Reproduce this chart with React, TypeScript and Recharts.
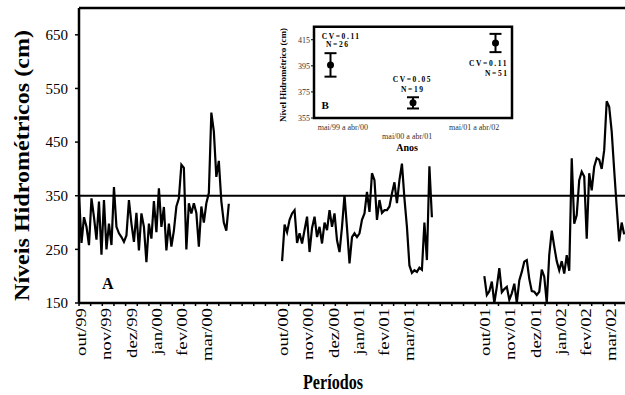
import React from 'react';
import { LineChart, Line, XAxis, YAxis, ReferenceLine, ComposedChart, Scatter, ErrorBar, ReferenceArea } from 'recharts';

// água: níveis diários (amostrados a cada 3 dias), três períodos out-abr
const segmentStartDays = [0, 244, 487];
const stepDays = 3;

const levels99_00 = [
  352, 262, 310, 292, 258, 345, 310, 268, 339, 240,
  342, 250, 298, 258, 366, 292, 280, 273, 264, 276,
  342, 298, 264, 318, 248, 317, 292, 226, 298, 270,
  340, 282, 364, 292, 329, 248, 298, 255, 285, 330,
  345, 408, 402, 250, 336, 317, 336, 318, 255, 330,
  300, 336, 355, 505, 470, 385, 415, 340, 300, 285, 335,
];

const levels00_01 = [
  228, 296, 282, 305, 317, 323, 262, 280, 261, 286,
  311, 245, 290, 311, 273, 292, 261, 300, 286, 323,
  292, 317, 267, 245, 292, 351, 290, 224, 273, 280,
  273, 280, 305, 317, 357, 320, 392, 379, 305, 342,
  318, 323, 323, 330, 354, 375, 336, 379, 410, 345,
  292, 220, 206, 211, 208, 216, 212, 300, 230, 405, 310,
];

const levels01_02 = [
  200, 165, 172, 190, 150, 180, 215, 170, 176, 180,
  156, 168, 186, 150, 192, 208, 227, 230, 195, 172,
  171, 165, 171, 212, 199, 150, 240, 285, 255, 228,
  211, 228, 205, 239, 210, 420, 298, 314, 379, 395,
  386, 270, 392, 360, 404, 420, 417, 400, 435, 526,
  516, 470, 398, 330, 265, 300, 278,
];

const monthLabels = [
  'out/99', 'nov/99', 'dez/99', 'jan/00', 'fev/00', 'mar/00',
  'out/00', 'nov/00', 'dez/00', 'jan/01', 'fev/01', 'mar/01',
  'out/01', 'nov/01', 'dez/01', 'jan/02', 'fev/02', 'mar/02',
];
const monthLabelDays = [2, 32, 63, 93, 123, 153, 245, 275, 306, 336, 366, 396, 488, 518, 549, 579, 609, 639];
const yTicks = [150, 250, 350, 450, 550, 650];
const referenceLevel = 350;

// gráfico B
const periods = ['mai/99 a abr/00', 'mai/00 a abr/01', 'mai/01 a abr/02'];
const periodPos = [0.2, 1.2, 2.2];
const periodLabelPos = [0.35, 1.13, 1.94];
const periodMeans = [395.7, 366.6, 412.5];
const periodErrors = [9, 4.3, 7];
const insetTicks = [355, 375, 395, 415];

const serif = '"Liberation Serif", "DejaVu Serif", serif';

const levelData: { day: number; level: number | null }[] = [];
[levels99_00, levels00_01, levels01_02].forEach((vals, s) => {
  if (s > 0) levelData.push({ day: segmentStartDays[s] - 20, level: null });
  vals.forEach((v, i) => levelData.push({ day: segmentStartDays[s] + i * stepDays, level: v }));
});

const minorTicks: number[] = [];
for (let d = 0; d <= 644; d += 14) minorTicks.push(d);
const allTicks = Array.from(new Set([...minorTicks, ...monthLabelDays])).sort((a, b) => a - b);

const insetData = periodPos.map((p, i) => ({ pos: p, mean: periodMeans[i], err: periodErrors[i] }));

const MonthTick = (props: any) => {
  const { x, y, payload } = props;
  const idx = monthLabelDays.indexOf(payload.value);
  if (idx < 0) {
    return <line x1={x} x2={x} y1={y} y2={y + 3} stroke="#000" strokeWidth={1.5} />;
  }
  return (
    <g transform={`translate(${x},${y + 5}) rotate(-90) scale(1.25,1)`}>
      <text textAnchor="end" dy="0.35em" fontSize={15} fontFamily={serif} fill="#000">
        {monthLabels[idx]}
      </text>
    </g>
  );
};

const PeriodTick = (props: any) => {
  const { x, y, payload } = props;
  const i = periodLabelPos.indexOf(payload.value);
  return (
    <text x={x} y={y + (i === 1 ? 18 : 9)} textAnchor="middle" dominantBaseline="central"
      fontSize={8} fontFamily={serif} fill="#333">
      {periods[i]}
    </text>
  );
};

export default function App() {
  return (
    <div style={{ position: 'absolute', left: 0, top: 0, width: 625, height: 395, background: '#fff', fontFamily: serif }}>
      <LineChart width={625} height={395} data={levelData} margin={{ top: 8, right: 0, bottom: 0, left: 0 }}>
        <XAxis
          dataKey="day"
          type="number"
          domain={[0, 656]}
          ticks={allTicks}
          interval={0}
          tick={(p: any) => <MonthTick {...p} />}
          tickLine={false}
          tickSize={0}
          tickMargin={0}
          axisLine={{ stroke: '#000', strokeWidth: 2.5 }}
          height={92}
          allowDataOverflow
        />
        <YAxis
          domain={[150, 700]}
          ticks={yTicks}
          width={79}
          tickSize={4}
          tickMargin={7}
          tickLine={{ stroke: '#000', strokeWidth: 1.5 }}
          axisLine={{ stroke: '#000', strokeWidth: 2.5 }}
          tick={{ fontSize: 15, fontFamily: serif, fill: '#000' }}
          allowDataOverflow
        />
        <ReferenceLine y={700} stroke="#000" strokeWidth={2.5} />
        <ReferenceLine y={referenceLevel} stroke="#000" strokeWidth={2} />
        <Line
          type="linear"
          dataKey="level"
          stroke="#000"
          strokeWidth={2.2}
          dot={false}
          connectNulls={false}
          isAnimationActive={false}
        />
      </LineChart>

      <div style={{ position: 'absolute', left: 270, top: 10 }}>
        <ComposedChart width={260} height={145} data={insetData} margin={{ top: 16.7, right: 0, bottom: 0, left: 0 }}>
          <XAxis
            dataKey="pos"
            type="number"
            domain={[0, 2.4]}
            ticks={periodLabelPos}
            interval={0}
            tick={(p: any) => <PeriodTick {...p} />}
            tickLine={false}
            tickSize={0}
            tickMargin={0}
            axisLine={false}
            height={37}
          />
          <YAxis
            yAxisId="l"
            domain={[355, 425]}
            ticks={insetTicks}
            width={44}
            tickSize={3}
            tickMargin={1}
            axisLine={false}
            tickLine={{ stroke: '#000' }}
            tick={{ fontSize: 8, fontFamily: serif, fill: '#333' }}
          />
          <YAxis
            yAxisId="r"
            orientation="right"
            domain={[355, 425]}
            ticks={insetTicks}
            width={18}
            tickSize={3}
            tick={false}
            axisLine={false}
            tickLine={{ stroke: '#000' }}
          />
          <ReferenceArea yAxisId="l" x1={0} x2={2.4} y1={355} y2={425} fill="none" stroke="#000" strokeWidth={2.5} />
          <Scatter
            yAxisId="l"
            dataKey="mean"
            isAnimationActive={false}
            shape={(p: any) => <circle cx={p.cx} cy={p.cy} r={3.5} fill="#000" />}
          >
            <ErrorBar dataKey="err" direction="y" width={6} stroke="#000" strokeWidth={2} />
          </Scatter>
        </ComposedChart>
      </div>

      <svg width={625} height={395} style={{ position: 'absolute', left: 0, top: 0, pointerEvents: 'none' }} fontFamily={serif}>
        <text transform="translate(22,165.5) rotate(-90)" textAnchor="middle" dy="0.35em" fontWeight="bold"
          fontSize={20} textLength={271} lengthAdjust="spacingAndGlyphs">
          Níveis Hidrométricos (cm)
        </text>
        <text x={333} y={389} textAnchor="middle" fontWeight="bold" fontSize={20} textLength={60} lengthAdjust="spacingAndGlyphs">
          Períodos
        </text>
        <text x={102} y={289} fontWeight="bold" fontSize={16}>A</text>

        <text transform="translate(283,75) rotate(-90)" textAnchor="middle" dy="0.35em" fontWeight="bold"
          fontSize={9} textLength={94} lengthAdjust="spacingAndGlyphs">
          Nível Hidrométrico (cm)
        </text>
        <text x={407} y={151} textAnchor="middle" fontWeight="bold" fontSize={10}>Anos</text>
        <text x={321.5} y={109.3} fontWeight="bold" fontSize={11}>B</text>

        <g fontWeight="bold" fontSize={7.5} letterSpacing={1.6}>
          <text x={321.7} y={38.5}>CV=0.11</text>
          <text x={326} y={47}>N=26</text>
          <text x={392.7} y={81.5}>CV=0.05</text>
          <text x={401} y={92}>N=19</text>
          <text x={469} y={65.5}>CV=0.11</text>
          <text x={485} y={76}>N=51</text>
        </g>
      </svg>
    </div>
  );
}
